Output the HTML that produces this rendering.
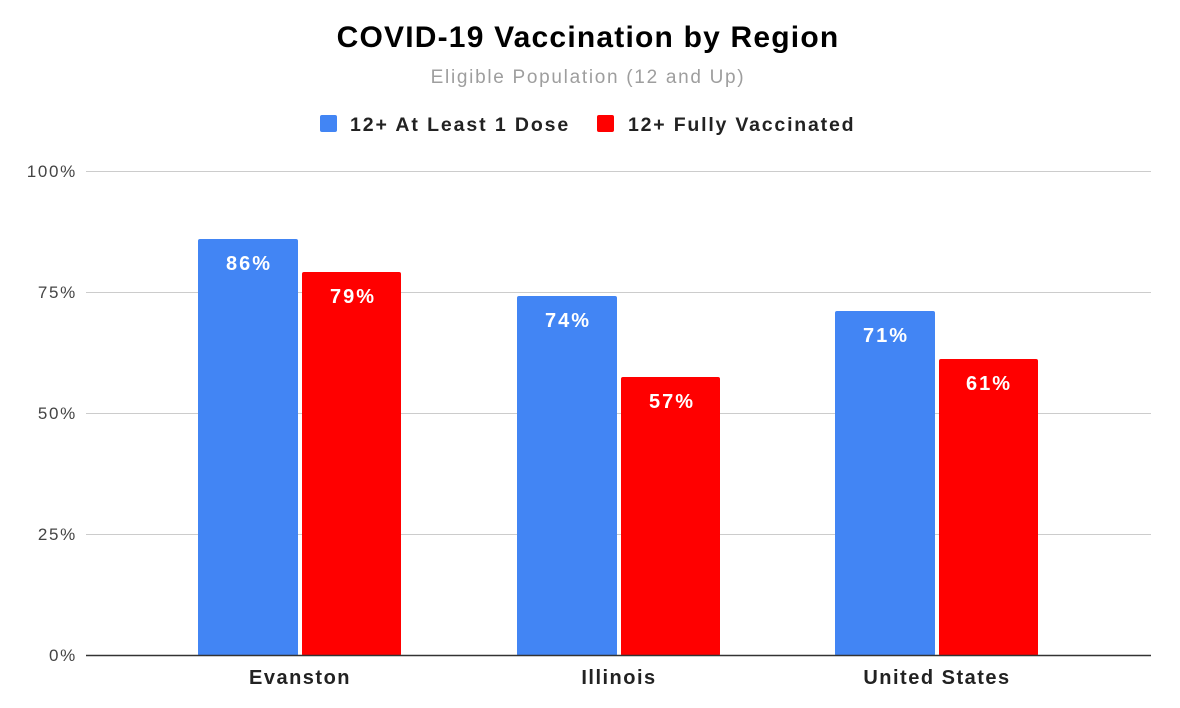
<!DOCTYPE html>
<html><head><meta charset="utf-8"><style>
body{margin:0;background:#fff;}
svg{display:block;font-family:"Liberation Sans",Arial,sans-serif;}
</style></head><body>
<svg width="1180" height="708" viewBox="0 0 1180 708">
<rect width="1180" height="708" fill="#fff"/>
<text x="588" y="47" text-anchor="middle" font-size="30" font-weight="bold" fill="#000" letter-spacing="1.2">COVID-19 Vaccination by Region</text>
<text x="588" y="83" text-anchor="middle" font-size="19" fill="#9e9e9e" letter-spacing="1.7">Eligible Population (12 and Up)</text>
<rect x="320" y="115" width="17" height="17" rx="2" fill="#4285f4"/>
<text x="350" y="131" font-size="19.5" font-weight="bold" fill="#222" letter-spacing="1.9">12+ At Least 1 Dose</text>
<rect x="597" y="115" width="17" height="17" rx="2" fill="#ff0000"/>
<text x="628" y="131" font-size="19.5" font-weight="bold" fill="#222" letter-spacing="1.8">12+ Fully Vaccinated</text>
<g stroke="#ccc" stroke-width="1">
<line x1="86" y1="171.5" x2="1151" y2="171.5"/>
<line x1="86" y1="292.5" x2="1151" y2="292.5"/>
<line x1="86" y1="413.5" x2="1151" y2="413.5"/>
<line x1="86" y1="534.5" x2="1151" y2="534.5"/>
</g>
<g font-size="17" fill="#444" text-anchor="end" letter-spacing="1.7">
<text x="77" y="177">100%</text>
<text x="77" y="298">75%</text>
<text x="77" y="419">50%</text>
<text x="77" y="540">25%</text>
<text x="77" y="661">0%</text>
</g>
<g>
<rect x="198" y="239" width="100" height="417" rx="2" fill="#4285f4"/>
<rect x="302" y="272" width="99" height="384" rx="2" fill="#ff0000"/>
<rect x="517" y="296" width="100" height="360" rx="2" fill="#4285f4"/>
<rect x="621" y="377" width="99" height="279" rx="2" fill="#ff0000"/>
<rect x="835" y="311" width="100" height="345" rx="2" fill="#4285f4"/>
<rect x="939" y="359" width="99" height="297" rx="2" fill="#ff0000"/>
</g>
<g font-size="20" font-weight="bold" fill="#fff" text-anchor="middle" letter-spacing="2">
<text x="249" y="270">86%</text>
<text x="353" y="303">79%</text>
<text x="568" y="327">74%</text>
<text x="672" y="408">57%</text>
<text x="886" y="342">71%</text>
<text x="989" y="390">61%</text>
</g>
<line x1="86" y1="655.5" x2="1151" y2="655.5" stroke="#333" stroke-width="1.5"/>
<g font-size="20" font-weight="bold" fill="#222" text-anchor="middle" letter-spacing="1.5">
<text x="300" y="684">Evanston</text>
<text x="619" y="684">Illinois</text>
<text x="937" y="684">United States</text>
</g>
</svg>
</body></html>
